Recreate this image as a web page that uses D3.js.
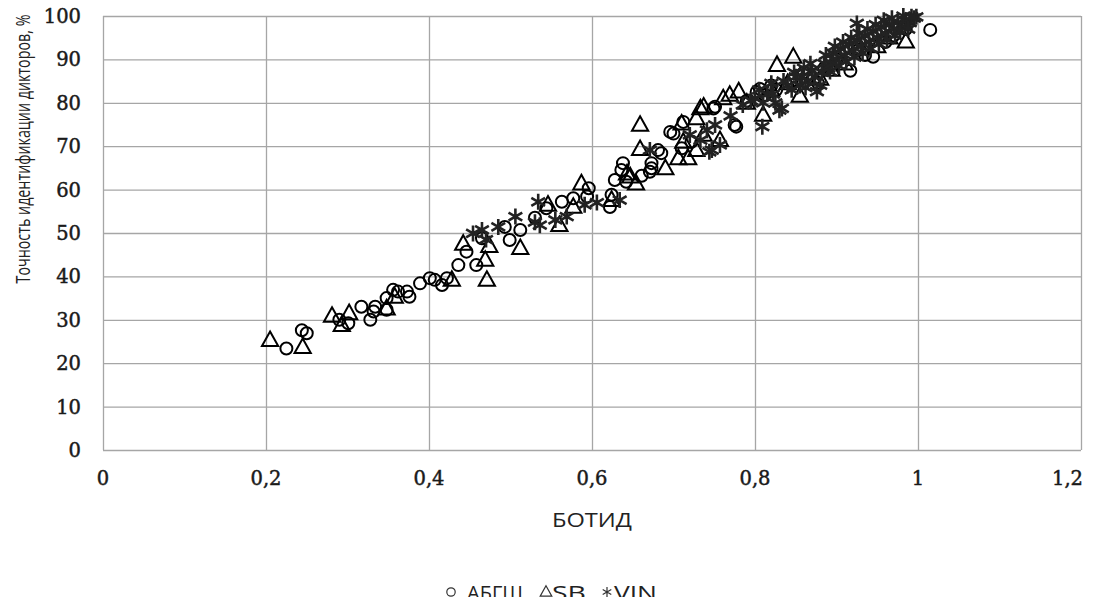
<!DOCTYPE html>
<html>
<head>
<meta charset="utf-8">
<script src="https://cdn.jsdelivr.net/npm/d3@7"></script>
<style>
  body { margin: 0; background: #fff; }
  svg { display: block; }
</style>
</head>
<body>
<div id="chart"></div>
<script>
// Series values: [БОТИД, accuracy %]
const abgsh = [
  [0.225, 23.4], [0.244, 27.6], [0.25, 26.9], [0.29, 30], [0.301, 29.2], [0.317, 33],
  [0.328, 30], [0.332, 31.9], [0.334, 33], [0.348, 32.3], [0.348, 35], [0.356, 36.9],
  [0.362, 36.5], [0.373, 36.5], [0.376, 35.3], [0.389, 38.4], [0.401, 39.6], [0.407, 39.2],
  [0.416, 38], [0.422, 39.6], [0.436, 42.6], [0.446, 45.7], [0.458, 42.6], [0.465, 48.8],
  [0.493, 51.4], [0.499, 48.4], [0.512, 50.7], [0.53, 53.5], [0.544, 55.7], [0.563, 57.2],
  [0.577, 58], [0.594, 58.4], [0.596, 60.3], [0.622, 56], [0.624, 58.8], [0.628, 62.2],
  [0.636, 64.5], [0.638, 66.1], [0.642, 61.8], [0.661, 63.2], [0.671, 64.1], [0.673, 66.1],
  [0.673, 64.9], [0.681, 69.1], [0.685, 68.4], [0.696, 73.3], [0.7, 72.9], [0.71, 69.5],
  [0.712, 75.6], [0.722, 71], [0.749, 78.7], [0.751, 79.1], [0.775, 74.9], [0.777, 74.5],
  [0.79, 80.5], [0.802, 82.5], [0.806, 83.2], [0.812, 81.8], [0.82, 84], [0.826, 83],
  [0.845, 85], [0.86, 87], [0.877, 84.6], [0.885, 88], [0.9, 90], [0.917, 87.4],
  [0.925, 92], [0.935, 91], [0.945, 90.6], [0.96, 94], [0.97, 95.5], [0.985, 97], [1.015, 96.8]
];
const sb = [
  [0.205, 25.3], [0.245, 23.7], [0.281, 30.9], [0.293, 28.8], [0.302, 31.5], [0.348, 32.6],
  [0.358, 35.3], [0.428, 39.2], [0.442, 47.5], [0.469, 43.8], [0.471, 39.2], [0.474, 47],
  [0.512, 46.5], [0.546, 56.5], [0.56, 51.8], [0.577, 56], [0.587, 61.4], [0.624, 57.6],
  [0.643, 63.7], [0.647, 63], [0.654, 61.4], [0.659, 74.9], [0.659, 69.3], [0.69, 64.9],
  [0.706, 67.2], [0.71, 75.2], [0.712, 71], [0.718, 67.2], [0.728, 69.1], [0.728, 76.4],
  [0.733, 78.7], [0.737, 72.6], [0.737, 79.1], [0.757, 71.4], [0.761, 81], [0.769, 81.8],
  [0.78, 82.6], [0.79, 80], [0.81, 77.2], [0.82, 83], [0.827, 88.7], [0.84, 84.5],
  [0.847, 90.6], [0.855, 81.6], [0.87, 86], [0.88, 85.5], [0.894, 87.6], [0.91, 89],
  [0.93, 92.5], [0.95, 93], [0.965, 95], [0.985, 94.1]
];
const vin = [
  [0.454, 49.9], [0.465, 50.7], [0.47, 48.5], [0.485, 51.4], [0.506, 53.8], [0.53, 52.5],
  [0.536, 51.8], [0.534, 57.2], [0.555, 53], [0.569, 53.8], [0.591, 56.5], [0.606, 57],
  [0.634, 57.6], [0.671, 69.1], [0.72, 72.6], [0.733, 71.4], [0.741, 73.7], [0.744, 68.7],
  [0.747, 69.1], [0.751, 74.9], [0.757, 70.3], [0.77, 77], [0.785, 79.5], [0.795, 80.5],
  [0.809, 74.5], [0.815, 82], [0.825, 80], [0.83, 78.3], [0.833, 78.7], [0.84, 84],
  [0.85, 86], [0.855, 84], [0.86, 88], [0.865, 85], [0.87, 87.5], [0.876, 82.6],
  [0.88, 84.1], [0.885, 89], [0.89, 88], [0.892, 87.2], [0.896, 91.4], [0.9, 90],
  [0.905, 92.5], [0.91, 91], [0.915, 93.5], [0.92, 92], [0.925, 98.3], [0.925, 94.5],
  [0.93, 93], [0.935, 95.5], [0.94, 94], [0.945, 96.5], [0.95, 95], [0.955, 97.5],
  [0.96, 96], [0.965, 98], [0.97, 97], [0.975, 98.5], [0.98, 97.5], [0.985, 99],
  [0.99, 98.5], [0.995, 99.5], [0.998, 99.8],
  [0.8, 81], [0.805, 83], [0.81, 80], [0.82, 84.5], [0.822, 82], [0.835, 85],
  [0.845, 83], [0.848, 87], [0.858, 86], [0.862, 83.5], [0.868, 89], [0.873, 86],
  [0.882, 87], [0.887, 91], [0.895, 89], [0.898, 93], [0.903, 88.5], [0.908, 94],
  [0.912, 89.5], [0.918, 95], [0.922, 90.5], [0.928, 96], [0.932, 91.5], [0.938, 97],
  [0.942, 92.5], [0.948, 98], [0.952, 93.5], [0.958, 99], [0.962, 94.5], [0.968, 99.5],
  [0.972, 95.5], [0.978, 96.5], [0.982, 100], [0.988, 97], [0.992, 99.8]
];
const seriesNames = ["АБГШ", "SB", "VIN"];
const xTicks = [0, 0.2, 0.4, 0.6, 0.8, 1, 1.2];
const yTicks = [0, 10, 20, 30, 40, 50, 60, 70, 80, 90, 100];

const width = 1101;
const height = 601;
const margin = { top: 16, right: 20, bottom: 151, left: 103 };

const svg = d3.select("#chart").append("svg")
  .attr("width", width)
  .attr("height", height);

const x = d3.scaleLinear().domain([0, 1.2]).range([margin.left, width - margin.right]);
const y = d3.scaleLinear().domain([0, 100]).range([height - margin.bottom, margin.top]);

const fmt = (d) => String(d).replace(".", ",");

// grid
svg.append("g")
  .attr("transform", `translate(0,${height - margin.bottom})`)
  .call(d3.axisBottom(x).tickValues(xTicks).tickSize(-(height - margin.bottom - margin.top)).tickFormat(""))
  .call((g) => g.select(".domain").remove())
  .call((g) => g.selectAll("line").attr("stroke", "#a6a6a6").attr("stroke-width", 1.3));

svg.append("g")
  .attr("transform", `translate(${margin.left},0)`)
  .call(d3.axisLeft(y).tickValues(yTicks).tickSize(-(width - margin.left - margin.right)).tickFormat(""))
  .call((g) => g.select(".domain").remove())
  .call((g) => g.selectAll("line").attr("stroke", "#a6a6a6").attr("stroke-width", 1.3));

// tick labels
const tickStyle = (sel) =>
  sel
    .style("font-family", "DejaVu Serif")
    .style("font-size", "19.5px")
    .attr("fill", "#1a1a1a")
    .attr("stroke", "#1a1a1a")
    .attr("stroke-width", 0.45);

svg.append("g")
  .selectAll("text")
  .data(xTicks)
  .join("text")
  .attr("x", (d, i) => (i === xTicks.length - 1 ? x(d) + 2 : x(d)))
  .attr("y", 485)
  .attr("text-anchor", (d, i) => (i === xTicks.length - 1 ? "end" : "middle"))
  .call(tickStyle)
  .text(fmt);

svg.append("g")
  .selectAll("text")
  .data(yTicks)
  .join("text")
  .attr("x", 81)
  .attr("y", (d) => y(d))
  .attr("dy", "0.36em")
  .attr("text-anchor", "end")
  .call(tickStyle)
  .text((d) => d);

// axis titles
svg.append("text")
  .attr("x", 592)
  .attr("y", 527)
  .attr("text-anchor", "middle")
  .attr("textLength", 80)
  .attr("lengthAdjust", "spacingAndGlyphs")
  .style("font-family", "Open Sans")
  .style("font-size", "20px")
  .attr("fill", "#222")
  .text("БОТИД");

// narrow face in the original, so squeeze along the text direction
svg.append("text")
  .attr("transform", `translate(30,149) rotate(-90) scale(0.715,1)`)
  .attr("text-anchor", "middle")
  .style("font-family", "Open Sans")
  .style("font-size", "20px")
  .attr("fill", "#222")
  .text("Точность идентификации  дикторов, %");

// markers
const plot = svg.append("g");

const triPath = (s) => `M0,${-s * 0.62}L${s * 0.58},${s * 0.42}L${-s * 0.58},${s * 0.42}Z`;
const starPath = (s) => {
  const a = s * 0.5;
  const b = s * 0.43;
  const c = s * 0.25;
  return `M0,${-a}V${a}M${-b},${-c}L${b},${c}M${-b},${c}L${b},${-c}`;
};

plot.append("g")
  .selectAll("circle")
  .data(abgsh)
  .join("circle")
  .attr("cx", (d) => x(d[0]))
  .attr("cy", (d) => y(d[1]))
  .attr("r", 6)
  .attr("fill", "none")
  .attr("stroke", "#000")
  .attr("stroke-width", 2);

plot.append("g")
  .selectAll("path")
  .data(sb)
  .join("path")
  .attr("transform", (d) => `translate(${x(d[0])},${y(d[1])})`)
  .attr("d", triPath(14))
  .attr("fill", "none")
  .attr("stroke", "#000")
  .attr("stroke-width", 2);

plot.append("g")
  .selectAll("path")
  .data(vin)
  .join("path")
  .attr("transform", (d) => `translate(${x(d[0])},${y(d[1])})`)
  .attr("d", starPath(16))
  .attr("fill", "none")
  .attr("stroke", "#222")
  .attr("stroke-width", 2.6);

// legend (cut off at the bottom edge, like the original)
svg.append("defs").append("clipPath").attr("id", "legclip")
  .append("rect").attr("x", 0).attr("y", 570).attr("width", width).attr("height", 27);

const legend = svg.append("g").attr("clip-path", "url(#legclip)");
const legendX = [451, 546, 607];
const legendTextX = [467, 552, 614];
const legendTextLen = [56, 34, 43];
const legendY = 592;

legend.append("circle")
  .attr("cx", legendX[0]).attr("cy", legendY).attr("r", 4.2)
  .attr("fill", "none").attr("stroke", "#333").attr("stroke-width", 1.2);
legend.append("path")
  .attr("transform", `translate(${legendX[1]},${legendY})`)
  .attr("d", triPath(10))
  .attr("fill", "none").attr("stroke", "#333").attr("stroke-width", 1.2);
legend.append("path")
  .attr("transform", `translate(${legendX[2]},${legendY})`)
  .attr("d", starPath(10))
  .attr("fill", "none").attr("stroke", "#333").attr("stroke-width", 1.2);

legend.selectAll("text.leg")
  .data(seriesNames)
  .join("text")
  .attr("class", "leg")
  .attr("x", (d, i) => legendTextX[i])
  .attr("y", 600)
  .attr("textLength", (d, i) => legendTextLen[i])
  .attr("lengthAdjust", "spacingAndGlyphs")
  .style("font-family", "Open Sans")
  .style("font-size", "20px")
  .attr("fill", "#222")
  .text((d) => d);
</script>
</body>
</html>
